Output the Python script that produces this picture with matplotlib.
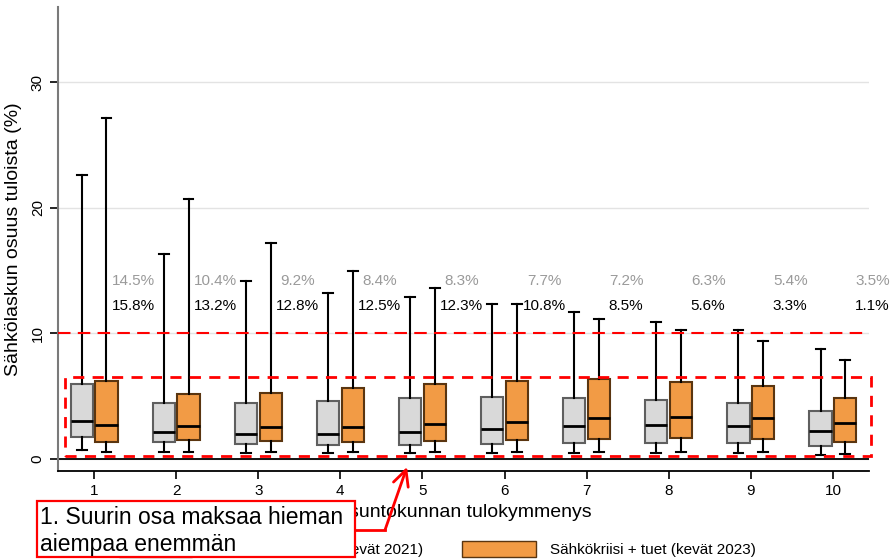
import numpy as np
import matplotlib.pyplot as plt
from matplotlib.patches import Rectangle, Patch

plt.rcParams['font.family'] = ['Liberation Sans', 'DejaVu Sans']

deciles = [1, 2, 3, 4, 5, 6, 7, 8, 9, 10]

# kevät 2021 (harmaa)
lo_2021 = [0.70, 0.56, 0.50, 0.48, 0.45, 0.48, 0.48, 0.48, 0.45, 0.34]
q1_2021 = [1.75, 1.35, 1.19, 1.11, 1.11, 1.19, 1.25, 1.27, 1.27, 1.06]
med_2021 = [3.00, 2.17, 2.00, 2.00, 2.15, 2.39, 2.65, 2.73, 2.65, 2.23]
q3_2021 = [6.00, 4.45, 4.45, 4.64, 4.88, 4.93, 4.90, 4.72, 4.48, 3.82]
hi_2021 = [22.6, 16.3, 14.2, 13.26, 12.9, 12.33, 11.7, 10.95, 10.26, 8.75]

# kevät 2023 (oranssi)
lo_2023 = [0.53, 0.56, 0.56, 0.53, 0.53, 0.53, 0.56, 0.56, 0.53, 0.42]
q1_2023 = [1.35, 1.50, 1.40, 1.38, 1.40, 1.49, 1.62, 1.64, 1.59, 1.35]
med_2023 = [2.70, 2.65, 2.57, 2.57, 2.76, 2.97, 3.26, 3.34, 3.29, 2.86]
q3_2023 = [6.20, 5.20, 5.30, 5.67, 5.97, 6.23, 6.34, 6.15, 5.83, 4.90]
hi_2023 = [27.2, 20.7, 17.2, 15.0, 13.6, 12.33, 11.14, 10.24, 9.39, 7.90]

pct_2021 = ['14.5%', '10.4%', '9.2%', '8.4%', '8.3%', '7.7%', '7.2%', '6.3%', '5.4%', '3.5%']
pct_2023 = ['15.8%', '13.2%', '12.8%', '12.5%', '12.3%', '10.8%', '8.5%', '5.6%', '3.3%', '1.1%']

label_2021 = 'Ennen sähkökriisiä (kevät 2021)'
label_2023 = 'Sähkökriisi + tuet (kevät 2023)'

grey = '#d9d9d9'
orange = '#f29b45'


def make_stats(lo, q1, med, q3, hi):
    return [dict(whislo=a, q1=b, med=c, q3=d, whishi=e, fliers=[])
            for a, b, c, d, e in zip(lo, q1, med, q3, hi)]


fig = plt.figure(figsize=(8.9, 5.59), dpi=100)
ax = fig.add_axes([58/890, 1-471/559, (869-58)/890, (471-7)/559])

x = np.array(deciles)
common = dict(widths=0.27, capwidths=0.12, patch_artist=True,
              whiskerprops=dict(color='black', lw=1.5),
              capprops=dict(color='black', lw=1.5),
              medianprops=dict(color='black', lw=2), manage_ticks=False)
ax.bxp(make_stats(lo_2021, q1_2021, med_2021, q3_2021, hi_2021), positions=x - 0.15,
       boxprops=dict(facecolor=grey, edgecolor='#5f5f5f', lw=1.5), **common)
ax.bxp(make_stats(lo_2023, q1_2023, med_2023, q3_2023, hi_2023), positions=x + 0.15,
       boxprops=dict(facecolor=orange, edgecolor='#5a3510', lw=1.5), **common)

for i, d in enumerate(deciles):
    ax.text(d + 0.48, 14.2, pct_2021[i], color='#9a9a9a', fontsize=11, ha='center', va='center')
    ax.text(d + 0.48, 12.2, pct_2023[i], color='black', fontsize=11, ha='center', va='center')

ax.axhline(0, color='black', lw=1.3, zorder=1)
ax.axhline(10, color='red', lw=1.5, ls=(0, (6, 3.5)), zorder=3)
ax.add_patch(Rectangle((0.64, 0.24), 10.46 - 0.64, 6.55 - 0.24, fill=False,
                       edgecolor='red', lw=2, ls=(0, (4, 3)), clip_on=False, zorder=3))

ax.set_xlim(0.56, 10.44)
ax.set_ylim(-0.95, 36)
ax.set_xticks(deciles)
ax.set_yticks([0, 10, 20, 30])
ax.grid(axis='y', color='#e3e3e3', lw=1)
ax.set_axisbelow(True)
ax.tick_params(axis='both', labelsize=11, length=6, width=1.2, color='black')
for lab in ax.get_yticklabels():
    lab.set_rotation(90)
    lab.set_va('center')
ax.spines['top'].set_visible(False)
ax.spines['right'].set_visible(False)
ax.spines['left'].set_color('#7a7a7a')
ax.spines['left'].set_linewidth(1.5)
ax.spines['bottom'].set_linewidth(1.3)
ax.set_xlabel('Asuntokunnan tulokymmenys', fontsize=14, labelpad=4)
ax.set_ylabel('Sähkölaskun osuus tuloista (%)', fontsize=14, labelpad=6)

handles = [Patch(facecolor=grey, edgecolor='#5f5f5f'), Patch(facecolor=orange, edgecolor='#5a3510')]
fig.legend(handles, [label_2021, label_2023], loc='center', bbox_to_anchor=(0.5 - 8/890, 1 - 549/559),
           ncol=2, frameon=False, fontsize=11, handlelength=4.8, handleheight=1.25,
           columnspacing=2.6, handletextpad=0.9)

# annotation
fig.patches.append(Rectangle((37/890, 1 - 557/559), 318/890, 56/559, transform=fig.transFigure,
                             facecolor='white', edgecolor='red', lw=1.6, zorder=10))
fig.text(40/890, 1 - 531/559, '1. Suurin osa maksaa hieman\naiempaa enemmän', fontsize=16.5,
         va='center', ha='left', linespacing=1.25, zorder=11)
fig.add_artist(plt.Line2D([355/890, 385/890], [1 - 530/559, 1 - 530/559], color='red', lw=2,
                          transform=fig.transFigure, zorder=11))
ax.annotate('', xy=(407/890, 1 - 467/559), xycoords='figure fraction',
            xytext=(385/890, 1 - 530/559), textcoords='figure fraction',
            arrowprops=dict(arrowstyle='->', color='red', lw=2, mutation_scale=28,
                            shrinkA=0, shrinkB=0), annotation_clip=False, zorder=11)

fig.savefig('out.png', dpi=100)
